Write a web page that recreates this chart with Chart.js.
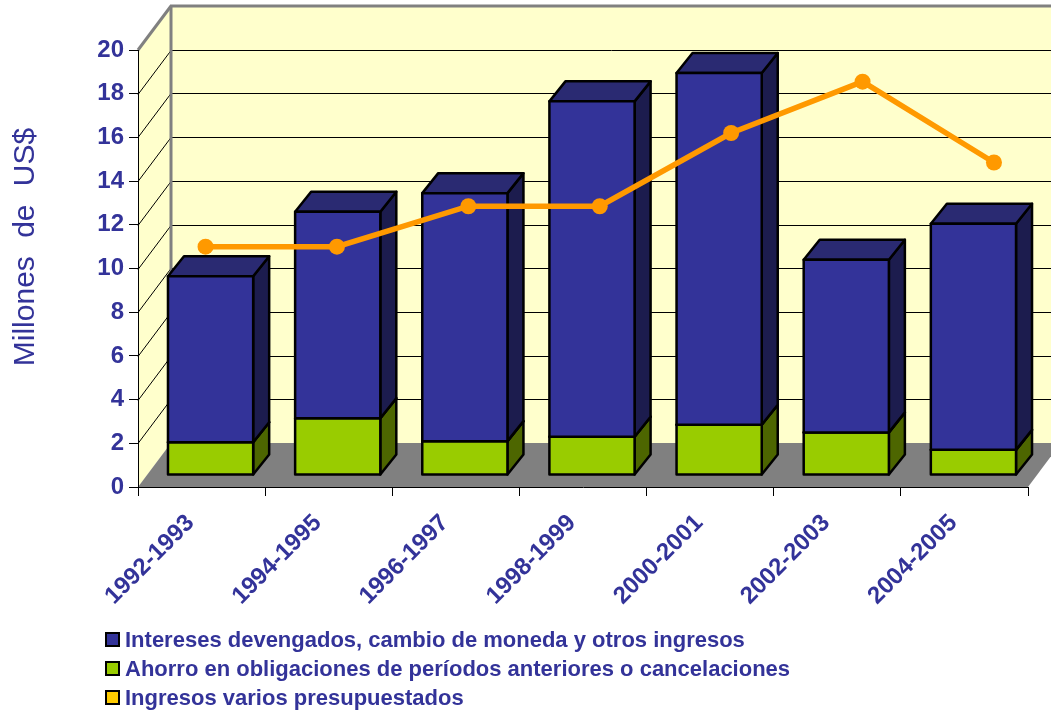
<!DOCTYPE html>
<html><head><meta charset="utf-8">
<script src="https://cdn.jsdelivr.net/npm/chart.js@4.4.1/dist/chart.umd.min.js"></script>
<style>
html,body{margin:0;padding:0;background:#fff;}
#wrap{position:relative;width:1051px;height:716px;overflow:hidden;}
canvas{position:absolute;left:0;top:0;}
#legend{position:absolute;left:105px;top:625px;font:bold 22px "Liberation Sans",Arial,sans-serif;color:#333399;}
.row{height:29px;display:flex;align-items:center;white-space:nowrap;}
.sw{width:11px;height:11px;border:2px solid #000;margin-right:5px;flex:none;}
.tx{display:inline-block;}
</style></head>
<body><div id="wrap"><canvas id="c" width="1051" height="716"></canvas><div id="legend"></div></div>
<script>
// ---- data ----
const categories = ['1992-1993','1994-1995','1996-1997','1998-1999','2000-2001','2002-2003','2004-2005'];
const ahorro = [1.5, 2.6, 1.55, 1.75, 2.3, 1.95, 1.15];
const intereses = [7.6, 9.45, 11.35, 15.35, 16.1, 7.9, 10.35];
const ingresosVarios = [11.0, 11.0, 12.85, 12.85, 16.2, 18.55, 14.85];
const yTicks = [0,2,4,6,8,10,12,14,16,18,20];
const seriesNames = ['Intereses devengados, cambio de moneda y otros ingresos','Ahorro en obligaciones de períodos anteriores o cancelaciones','Ingresos varios presupuestados'];

const TXT = '#333399';
const FONT = '"Liberation Sans", Arial, sans-serif';
const D = {wx:33, wy:-44, bx:9, by:-12, dx:16, dy:-20};
const barColors = [
  {front:'#99CC00', side:'#4D6600', top:'#7FA800'},
  {front:'#333399', side:'#1C1C4E', top:'#2A2A72'}
];

function poly(ctx, pts, fill, stroke, lw){
  ctx.beginPath();
  pts.forEach((p,i)=> i?ctx.lineTo(p[0],p[1]):ctx.moveTo(p[0],p[1]));
  ctx.closePath();
  if(fill){ctx.fillStyle=fill;ctx.fill();}
  if(stroke){ctx.strokeStyle=stroke;ctx.lineWidth=lw||1;ctx.lineJoin='round';ctx.stroke();}
}
function seg(ctx,x1,y1,x2,y2,c,w){ctx.beginPath();ctx.moveTo(x1,y1);ctx.lineTo(x2,y2);ctx.strokeStyle=c;ctx.lineWidth=w;ctx.stroke();}

const threeD = {
  id:'threeD',
  beforeDraw(chart){
    const ctx=chart.ctx, a=chart.chartArea, y=chart.scales.y;
    const L=a.left,R=a.right,T=a.top,B=a.bottom,W=chart.width+50;
    ctx.save();
    ctx.fillStyle='#fff';ctx.fillRect(0,0,chart.width,chart.height);
    ctx.fillStyle='#FFFFCC';
    ctx.fillRect(L+D.wx, T+D.wy, W, B-T);
    poly(ctx,[[L,T],[L+D.wx,T+D.wy],[L+D.wx,B+D.wy],[L,B]],'#FFFFCC');
    poly(ctx,[[L,B],[R,B],[R+D.wx,B+D.wy],[L+D.wx,B+D.wy]],'#808080');
    yTicks.forEach(v=>{
      if(v===0||v===20) return;
      const py=Math.round(y.getPixelForValue(v))+0.5;
      seg(ctx,L,py,L+D.wx,py+D.wy,'#000',1);
      seg(ctx,L+D.wx,py+D.wy,W,py+D.wy,'#000',1);
    });
    const pt=y.getPixelForValue(20);
    seg(ctx,L,pt,L+D.wx,pt+D.wy,'#808080',3);
    seg(ctx,L+D.wx-1,pt+D.wy,W,pt+D.wy,'#808080',3);
    seg(ctx,L+D.wx,pt+D.wy,L+D.wx,B+D.wy,'#808080',3);
    ctx.restore();
  },
  beforeDatasetsDraw(chart){
    const ctx=chart.ctx;
    const metas=[chart.getDatasetMeta(0),chart.getDatasetMeta(1)];
    ctx.save();
    for(let i=0;i<categories.length;i++){
      for(let k=0;k<2;k++){
        const el=metas[k].data[i];
        const p=el.getProps(['x','y','base','width'],true);
        const c=barColors[k];
        const x0=p.x-p.width/2+D.bx, x1=p.x+p.width/2+D.bx;
        const yt=Math.min(p.y,p.base)+D.by, yb=Math.max(p.y,p.base)+D.by;
        poly(ctx,[[x1,yb],[x1+D.dx,yb+D.dy],[x1+D.dx,yt+D.dy],[x1,yt]],c.side,'#000',2.5);
        poly(ctx,[[x0,yt],[x0+D.dx,yt+D.dy],[x1+D.dx,yt+D.dy],[x1,yt]],c.top,'#000',2.5);
        poly(ctx,[[x0,yb],[x1,yb],[x1,yt],[x0,yt]],c.front,'#000',2.5);
      }
    }
    ctx.restore();
  },
  afterDraw(chart){
    const ctx=chart.ctx;
    ctx.save();
    ctx.translate(34,247);
    ctx.rotate(-Math.PI/2);
    ctx.font='30px '+FONT;
    try{ctx.wordSpacing='10px';}catch(e){}
    ctx.fillStyle=TXT;ctx.textAlign='center';ctx.textBaseline='alphabetic';
    ctx.fillText('Millones de US$',0,0);
    ctx.restore();
  }
};

new Chart(document.getElementById('c'),{
  data:{
    labels:categories,
    datasets:[
      {type:'bar',label:seriesNames[1],data:ahorro,stack:'s',grouped:false,backgroundColor:'rgba(0,0,0,0)',borderWidth:0,order:1,categoryPercentage:1,barPercentage:0.67,xAxisID:'x'},
      {type:'bar',label:seriesNames[0],data:intereses,stack:'s',grouped:false,backgroundColor:'rgba(0,0,0,0)',borderWidth:0,order:1,categoryPercentage:1,barPercentage:0.67,xAxisID:'x'},
      {type:'line',label:seriesNames[2],data:ingresosVarios.map((v,i)=>({x:i,y:v})),xAxisID:'x2',
       borderColor:'#FF9900',backgroundColor:'#FF9900',borderWidth:5.5,pointRadius:8,pointBackgroundColor:'#FF9900',pointBorderWidth:0,tension:0,order:0}
    ]
  },
  options:{
    responsive:false,animation:false,devicePixelRatio:1,events:[],
    layout:{padding:{left:0,top:50,right:23,bottom:0}},
    plugins:{legend:{display:false},tooltip:{enabled:false}},
    scales:{
      x:{type:'category',stacked:true,offset:true,
         grid:{offset:true,drawOnChartArea:false,drawTicks:true,tickLength:9,color:'#000',lineWidth:1},
         border:{display:true,color:'#000',width:1},
         ticks:{minRotation:45,maxRotation:45,autoSkip:false,color:TXT,font:{family:FONT,size:24,weight:'bold'},padding:13,labelOffset:-11},
         afterFit(s){s.height=229;}},
      x2:{type:'linear',display:false,min:-0.514,max:6.259},
      y:{type:'linear',stacked:true,min:0,max:20,
         grid:{drawOnChartArea:false,drawTicks:true,tickLength:9,color:'#000'},
         border:{display:true,color:'#000',width:1},
         ticks:{stepSize:2,color:TXT,font:{family:FONT,size:24,weight:'bold'},padding:5},
         afterFit(s){s.width=138;}}
    }
  },
  plugins:[threeD]
});

const legendItems=[{name:seriesNames[0],color:'#333399'},{name:seriesNames[1],color:'#99CC00'},{name:seriesNames[2],color:'#FFCC00'}];
const lg=document.getElementById('legend');
legendItems.forEach(it=>{
  const r=document.createElement('div');r.className='row';
  const s=document.createElement('span');s.className='sw';s.style.background=it.color;
  const t=document.createElement('span');t.className='tx';t.textContent=it.name;
  r.appendChild(s);r.appendChild(t);lg.appendChild(r);
});
</script>
</body></html>
